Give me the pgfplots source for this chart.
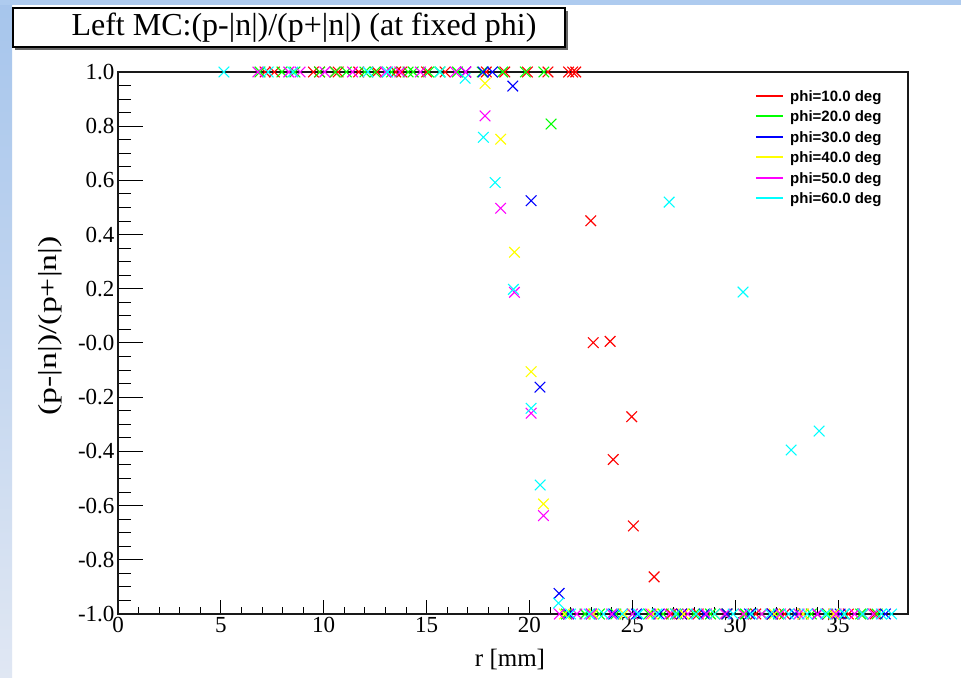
\documentclass[border=0pt]{standalone}
\usepackage{pgfplots}
\pgfplotsset{compat=1.18}
\usepackage{fontspec}
\usepackage{graphicx}
\setmainfont{Liberation Serif}
\newfontfamily\legfont{Liberation Sans}
\definecolor{stripA}{RGB}{166,197,236}
\definecolor{stripB}{RGB}{224,231,243}
\definecolor{stripTop}{RGB}{174,203,239}
\definecolor{cR}{RGB}{255,0,0}
\definecolor{cG}{RGB}{0,255,0}
\definecolor{cB}{RGB}{0,0,255}
\definecolor{cY}{RGB}{255,255,0}
\definecolor{cM}{RGB}{255,0,255}
\definecolor{cC}{RGB}{0,255,255}
\begin{document}
\begin{tikzpicture}[x=1bp,y=1bp]
\fill[white] (0,0) rectangle (961,678);
\shade[top color=stripA, bottom color=stripB] (0,0) rectangle (12,678);
\fill[stripTop] (0,673) rectangle (961,678);
% y-axis ticks (long ticks)
\begin{axis}[at={(118bp,64bp)}, anchor=south west, scale only axis,
  width=790bp, height=542bp, xmin=0, xmax=38.4, ymin=-1, ymax=1,
  axis line style={draw=none}, xtick=\empty,
  ytick={-1,-0.8,-0.6,-0.4,-0.2,0,0.2,0.4,0.6,0.8,1},
  yticklabels={-1.0,-0.8,-0.6,-0.4,-0.2,-0.0,0.2,0.4,0.6,0.8,1.0},
  minor y tick num=3, ytick pos=left, tick align=inside,
  major tick length=25bp, minor tick length=13bp,
  tick style={line width=1bp, black},
  yticklabel style={font=\fontsize{23bp}{23bp}\selectfont},
]
\end{axis}
\begin{axis}[at={(118bp,64bp)}, anchor=south west, scale only axis,
  width=790bp, height=542bp, xmin=0, xmax=38.4, ymin=-1, ymax=1,
  clip=false,
  axis line style={line width=1.2bp, black!90},
  ytick=\empty,
  xtick={0,5,10,15,20,25,30,35},
  xticklabels={0,5,10,15,20,25,30,35},
  minor x tick num=4, xtick pos=bottom, tick align=inside,
  major tick length=14bp, minor tick length=7bp,
  tick style={line width=1bp, black},
  xticklabel style={font=\fontsize{23bp}{23bp}\selectfont},
  pts/.style={only marks, mark=x, mark size=7.5bp, line width=1.1bp},
]
% phi=10
\addplot[pts, color=cR] coordinates {
(7.15,1) (7.6,1) (9.5,1) (9.8,1) (10.55,1) (10.7,1) (11.7,1) (12.6,1) (13.5,1) (13.8,1)
(15.0,1) (15.9,1) (16.9,1) (17.9,1) (18.8,1) (19.9,1) (20.9,1) (21.9,1) (22.1,1) (22.25,1)
(22.98,0.451) (23.1,0.001) (23.92,0.006) (24.97,-0.272) (24.07,-0.43) (25.05,-0.675) (26.06,-0.863)
(26.9,-1) (27.1,-1) (27.4,-1) (28.2,-1) (29.0,-1) (29.6,-1) (30.4,-1) (31.0,-1) (31.8,-1)
(32.4,-1) (33.3,-1) (34.0,-1) (34.8,-1) (35.5,-1) (36.2,-1) (36.8,-1)
};
% phi=20
\addplot[pts, color=cG] coordinates {
(6.9,1) (7.97,1) (8.6,1) (9.8,1) (10.55,1) (11.1,1) (12.0,1) (12.5,1) (13.3,1) (14.1,1)
(14.35,1) (15.1,1) (15.65,1) (16.5,1) (17.7,1) (18.7,1) (19.8,1) (20.7,1)
(21.05,0.808)
(21.8,-1) (22.7,-1) (23.4,-1) (24.2,-1) (25.0,-1) (25.8,-1) (26.5,-1) (27.2,-1) (28.0,-1)
(28.8,-1) (29.6,-1) (30.5,-1) (31.3,-1) (32.1,-1) (32.9,-1) (33.7,-1) (34.5,-1) (35.3,-1)
(36.1,-1) (36.9,-1)
};
% phi=30
\addplot[pts, color=cB] coordinates {
(16.9,1) (17.75,1) (18.2,1)
(19.19,0.948) (20.08,0.525) (20.51,-0.163) (21.44,-0.924)
(21.9,-1) (23.0,-1) (24.1,-1) (25.2,-1) (26.3,-1) (27.4,-1) (28.5,-1) (29.6,-1) (30.7,-1)
(31.8,-1) (32.9,-1) (34.0,-1) (35.1,-1) (36.2,-1) (37.3,-1)
};
% phi=40
\addplot[pts, color=cY] coordinates {
(17.84,0.958) (18.6,0.752) (19.27,0.335) (20.08,-0.106) (20.68,-0.594)
(21.7,-1) (23.1,-1) (24.6,-1) (26.0,-1) (27.5,-1) (29.0,-1) (30.4,-1) (31.9,-1) (33.3,-1)
(34.8,-1) (36.2,-1)
};
% phi=50
\addplot[pts, color=cM] coordinates {
(6.8,1) (8.3,1) (8.85,1) (10.05,1) (11.4,1) (13.0,1) (13.7,1) (14.7,1) (16.4,1) (16.9,1)
(17.84,0.838) (18.6,0.497) (19.27,0.187) (20.08,-0.259) (20.68,-0.637)
(21.45,-1) (22.3,-1) (23.0,-1) (24.0,-1) (25.0,-1) (25.9,-1) (26.8,-1) (27.7,-1) (28.6,-1)
(29.5,-1) (30.4,-1) (31.3,-1) (32.2,-1) (33.1,-1) (34.0,-1) (34.9,-1) (35.8,-1) (36.7,-1)
};
% phi=60
\addplot[pts, color=cC] coordinates {
(5.15,1) (7.3,1) (8.5,1) (12.15,1) (13.1,1) (15.65,1)
(16.87,0.977) (17.76,0.759) (18.33,0.592) (19.22,0.198) (20.08,-0.241) (20.52,-0.524) (21.41,-0.96)
(26.79,0.52) (30.38,0.188) (32.72,-0.395) (34.08,-0.325)
(22.0,-1) (22.9,-1) (23.6,-1) (24.5,-1) (25.3,-1) (26.2,-1) (27.1,-1) (28.1,-1) (29.0,-1)
(29.9,-1) (30.8,-1) (31.7,-1) (32.6,-1) (33.5,-1) (34.4,-1) (35.3,-1) (36.2,-1) (37.1,-1) (37.6,-1)
};
\end{axis}
% legend
\foreach \c/\t/\yy in {cR/10/582, cG/20/562, cB/30/541, cY/40/521, cM/50/500, cC/60/480}{
  \fill[\c] (756,\yy-1.1) rectangle (783,\yy+1.1);
  \node[anchor=base west, inner sep=0pt, font=\fontsize{15bp}{18bp}\legfont\bfseries] at (790,\yy-5.4) {phi=\t.0 deg};
}
% axis titles
\node[rotate=90, font=\fontsize{26bp}{26bp}\selectfont] at (50,352) {\scalebox{1.3}[1]{(p-|n|)/(p+|n|)}};
\node[font=\fontsize{25bp}{25bp}\selectfont] at (510,18) {r [mm]};
% title box
\fill[black!60] (15,628) rectangle (568,667);
\draw[black, fill=white, line width=1.2bp] (13,631) rectangle (565,670);
\node[font=\fontsize{32bp}{32bp}\selectfont] at (304,650.5) {Left MC:(p-|n|)/(p+|n|) (at fixed phi)};
\end{tikzpicture}
\end{document}
